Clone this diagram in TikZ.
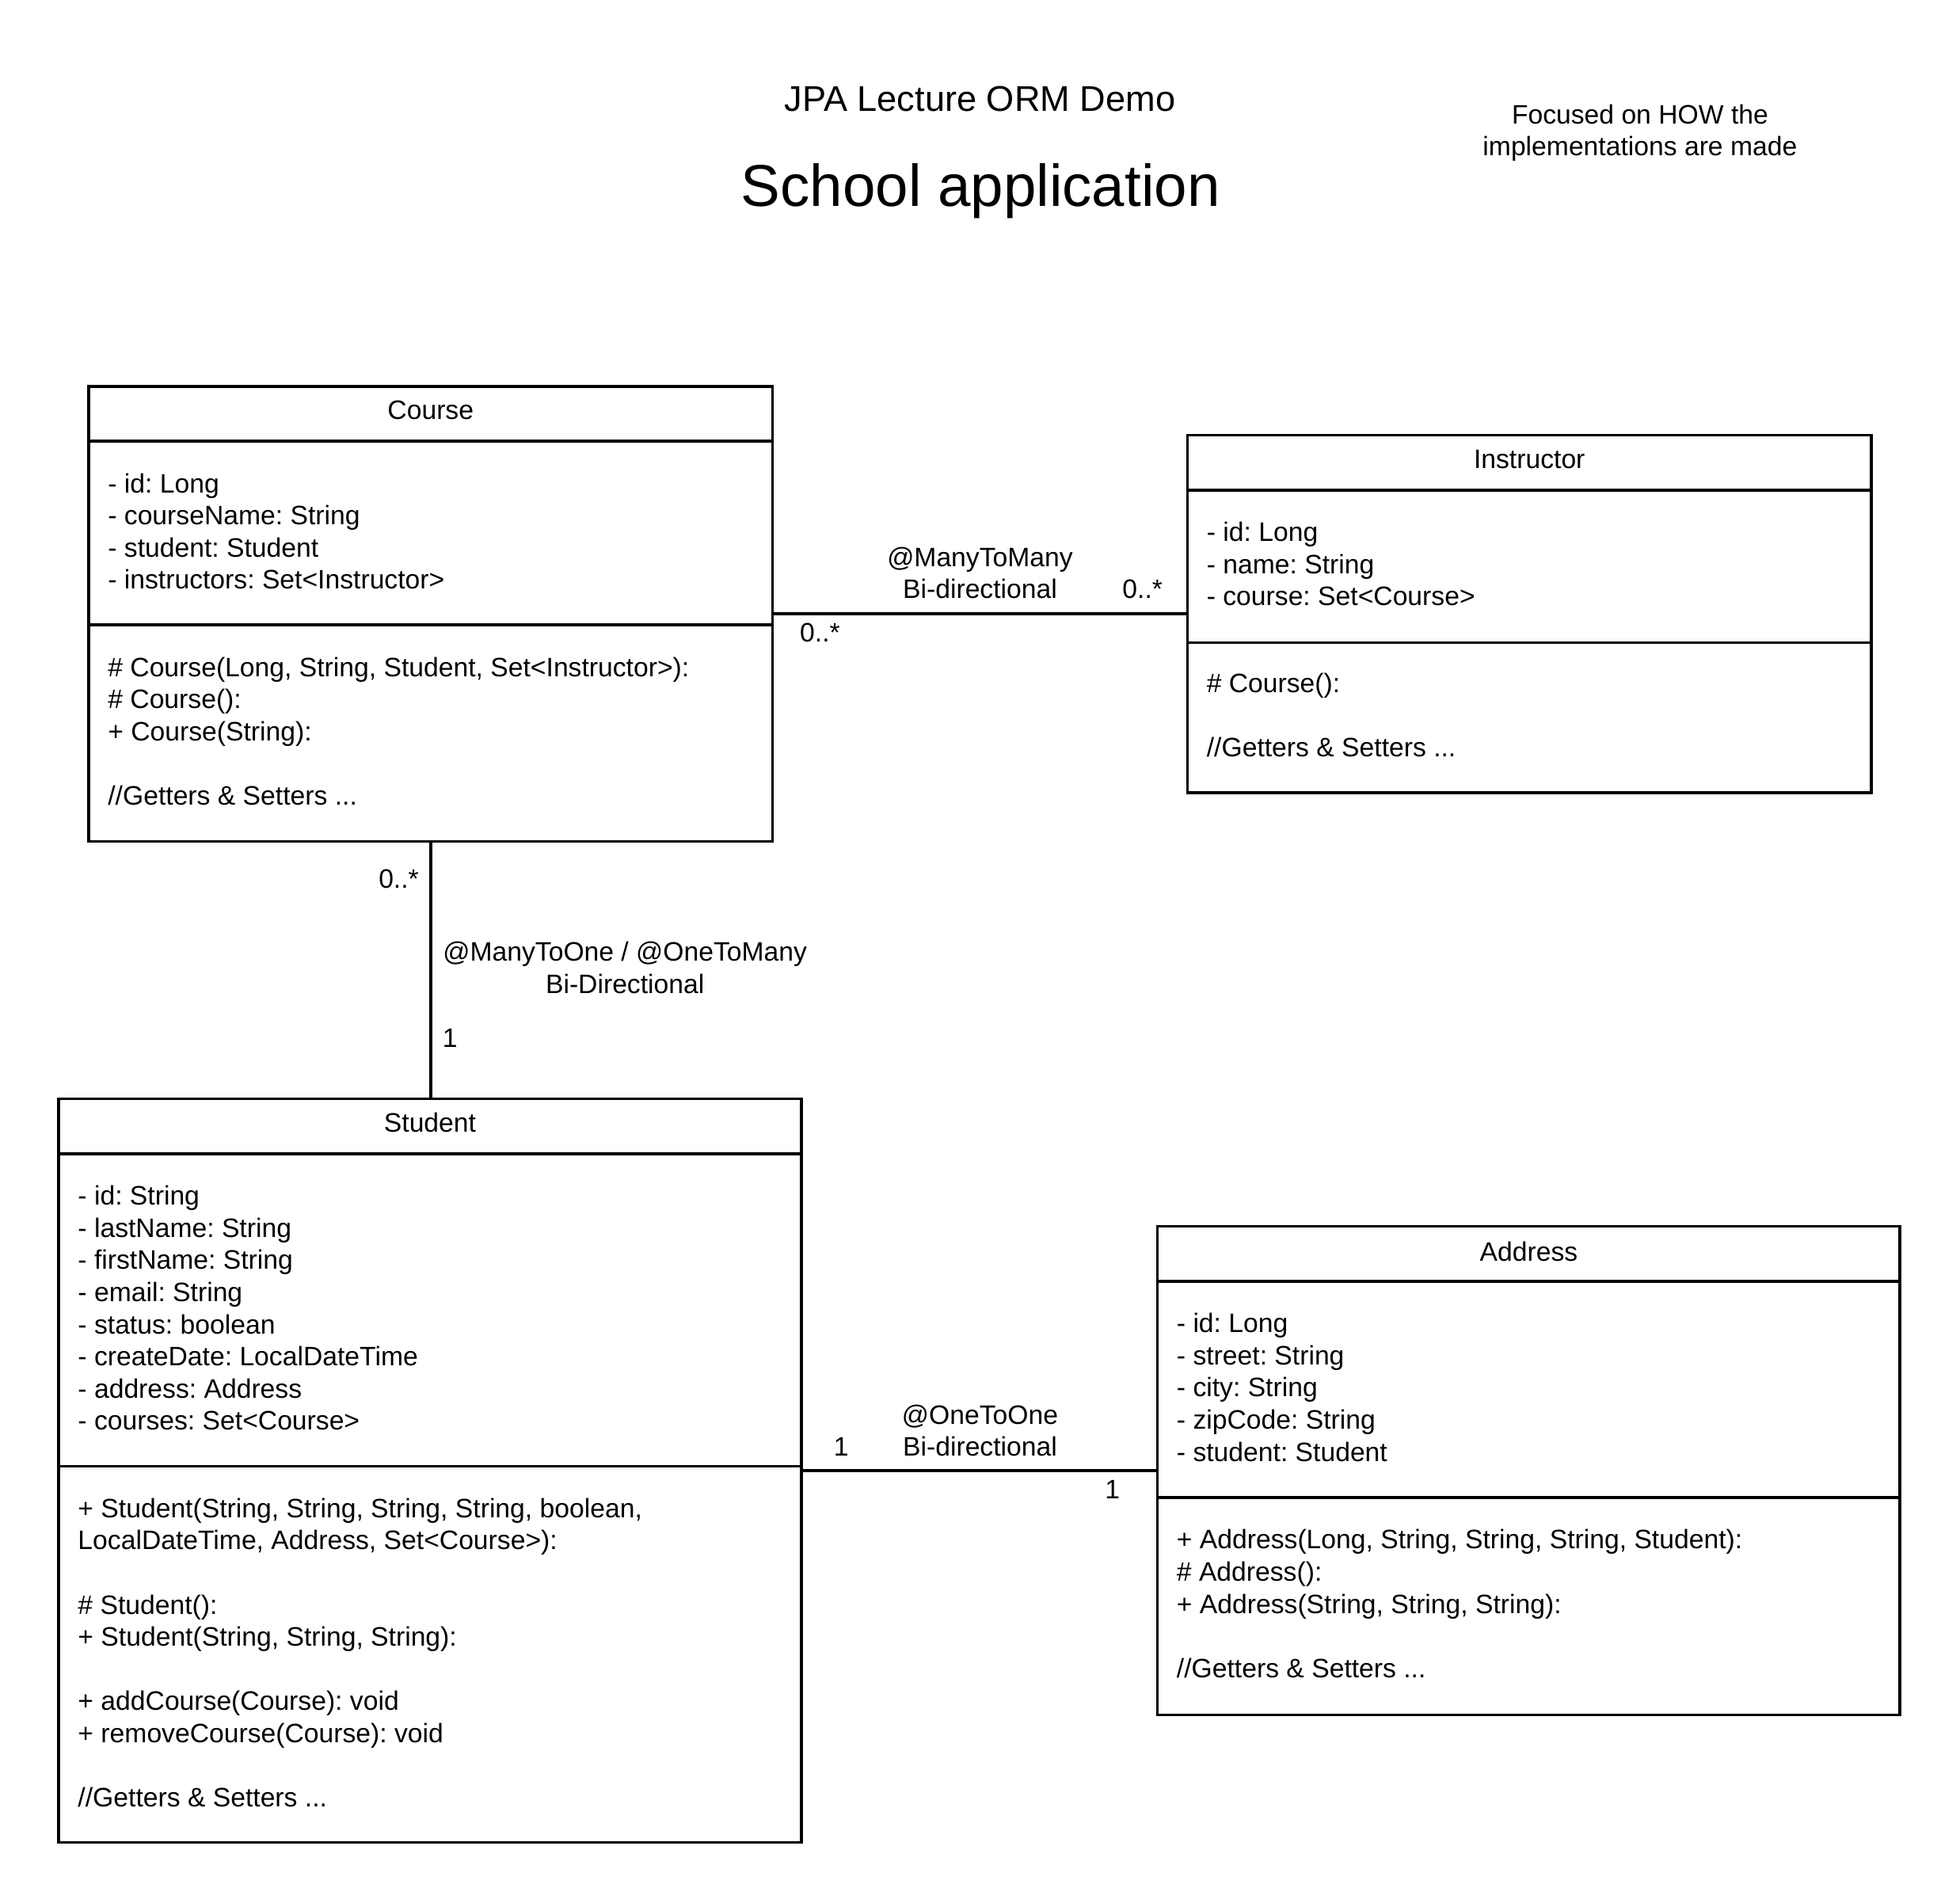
\documentclass[tikz,border=0pt]{standalone}
\usepackage{fontspec}
\setmainfont{Liberation Sans}
\usetikzlibrary{fit}
\frenchspacing
\newcommand{\bodyfont}{\fontsize{10.67pt}{12.85pt}\selectfont}
\newcommand{\Ls}{\strut}
\begin{document}
\begin{tikzpicture}[x=0.5pt,y=-0.5pt,
  box/.style={draw, line width=1.15pt, inner sep=0pt, outer sep=0pt},
  sepline/.style={line width=1.15pt},
  conn/.style={line width=1.1pt},
  txt/.style={font=\bodyfont, inner sep=0pt, align=left, anchor=north west},
  ctxt/.style={font=\bodyfont, inner sep=0pt, align=center, anchor=north},
  lbl/.style={font=\bodyfont, inner sep=0pt, anchor=base},
]
\fill[white] (0,0) rectangle (1568,1521.8);
\useasboundingbox (0,0) rectangle (1568,1521.8);

% titles
\node[font=\fontsize{14.3pt}{17pt}\selectfont, inner sep=0pt, anchor=base] (demo) at (784,89) {JPA Lecture ORM Demo};
\node[font=\fontsize{23.6pt}{28pt}\selectfont, inner sep=0pt, anchor=base] (title) at (784.5,165) {School application};
\node[ctxt] (note) at (1312,80.7) {\Ls Focused on HOW the\\ \Ls implementations are made};

% Course
\node[box, fit={(71,309) (618,673)}] (course) {};
\draw[sepline] (71,353) -- (618,353);
\draw[sepline] (71,500) -- (618,500);
\node[lbl] (course-t) at (344.5,335.7) {Course};
\node[txt] (course-a) at (86,375.7) {\Ls - id: Long\\ \Ls - courseName: String\\ \Ls - student: Student\\ \Ls - instructors: Set<Instructor>};
\node[txt] (course-m) at (86,522.7) {\Ls \# Course(Long, String, Student, Set<Instructor>):\\ \Ls \# Course():\\ \Ls + Course(String):\\ \Ls\\ \Ls //Getters \& Setters ...};

% Instructor
\node[box, fit={(950,348) (1497,634)}] (instructor) {};
\draw[sepline] (950,392) -- (1497,392);
\draw[sepline] (950,514) -- (1497,514);
\node[lbl] (instructor-t) at (1223.5,374.7) {Instructor};
\node[txt] (instructor-a) at (965,414.7) {\Ls - id: Long\\ \Ls - name: String\\ \Ls - course: Set<Course>};
\node[txt] (instructor-m) at (965,535.7) {\Ls \# Course():\\ \Ls\\ \Ls //Getters \& Setters ...};

% Student
\node[box, fit={(47,879) (641,1474)}] (student) {};
\draw[sepline] (47,923) -- (641,923);
\draw[sepline] (47,1173) -- (641,1173);
\node[lbl] (student-t) at (344,905.7) {Student};
\node[txt] (student-a) at (62,945.7) {\Ls - id: String\\ \Ls - lastName: String\\ \Ls - firstName: String\\ \Ls - email: String\\ \Ls - status: boolean\\ \Ls - createDate: LocalDateTime\\ \Ls - address: Address\\ \Ls - courses: Set<Course>};
\node[txt] (student-m) at (62,1195.7) {\Ls + Student(String, String, String, String, boolean,\\ \Ls LocalDateTime, Address, Set<Course>):\\ \Ls\\ \Ls \# Student():\\ \Ls + Student(String, String, String):\\ \Ls\\ \Ls + addCourse(Course): void\\ \Ls + removeCourse(Course): void\\ \Ls\\ \Ls //Getters \& Setters ...};

% Address
\node[box, fit={(926,981) (1520,1372)}] (address) {};
\draw[sepline] (926,1025) -- (1520,1025);
\draw[sepline] (926,1198) -- (1520,1198);
\node[lbl] (address-t) at (1223,1008.7) {Address};
\node[txt] (address-a) at (941,1047.7) {\Ls - id: Long\\ \Ls - street: String\\ \Ls - city: String\\ \Ls - zipCode: String\\ \Ls - student: Student};
\node[txt] (address-m) at (941,1220.7) {\Ls + Address(Long, String, String, String, Student):\\ \Ls \# Address():\\ \Ls + Address(String, String, String):\\ \Ls\\ \Ls //Getters \& Setters ...};

% connectors
\draw[conn] (course.east) -- (instructor.west);
\draw[conn] (course.south) -- (course.south |- student.north);
\draw[conn] (student.east) -- (address.west);

% connector labels
\node[ctxt] (mm) at (784,434.7) {\Ls @ManyToMany\\ \Ls Bi-directional};
\node[lbl] (mm-i) at (914,478.7) {0..*};
\node[lbl] (mm-c) at (656,513.7) {0..*};
\node[ctxt] (mo) at (500,750.7) {\Ls @ManyToOne / @OneToMany\\ \Ls Bi-Directional};
\node[lbl] (mo-c) at (319,710.7) {0..*};
\node[lbl] (mo-s) at (360,837.7) {1};
\node[ctxt] (oo) at (784,1120.7) {\Ls @OneToOne\\ \Ls Bi-directional};
\node[lbl] (oo-s) at (673,1164.7) {1};
\node[lbl] (oo-a) at (890,1198.7) {1};
\end{tikzpicture}
\end{document}
